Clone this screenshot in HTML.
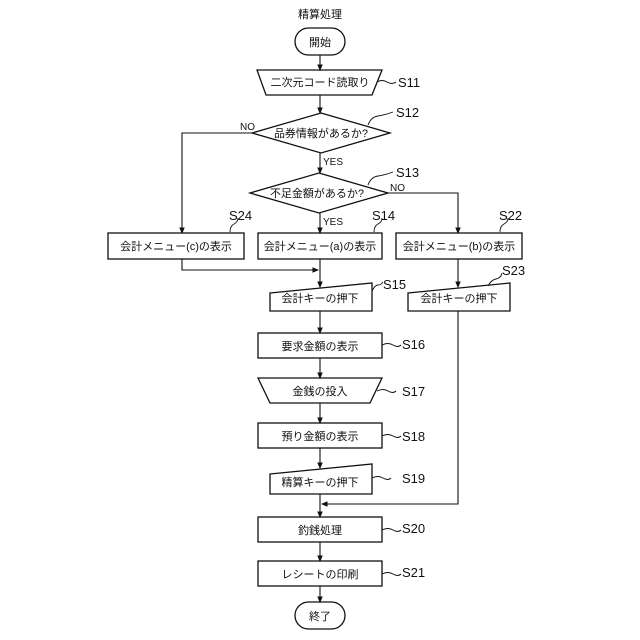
<!DOCTYPE html>
<html><head><meta charset="utf-8"><style>
body{margin:0;background:#fff}
svg{display:block}
text{font-family:"Liberation Sans","Noto Sans CJK JP",sans-serif;font-size:11px;fill:#111}
.l{font-size:13px}
</style></head><body>
<svg width="640" height="640" viewBox="0 0 640 640" xmlns="http://www.w3.org/2000/svg">
<defs><marker id="a" markerWidth="6" markerHeight="6" refX="5" refY="3" orient="auto"><path d="M0,0.5 L6,3 L0,5.5z" fill="#111"/></marker></defs>
<g fill="none" stroke="#111" stroke-width="1.3">
<rect x="295" y="28" width="50" height="27" rx="13.5"/>
<polygon points="257,70 382,70 372,95 266,95"/>
<polygon points="321,113 390,133 321,153 252,133"/>
<polygon points="319,173 388,193 319,213 250,193"/>
<rect x="108" y="233" width="136" height="26"/>
<rect x="258" y="233" width="124" height="26"/>
<rect x="396" y="233" width="126" height="26"/>
<polygon points="270,293 372,283 372,311 270,311"/>
<polygon points="408,293 510,283 510,311 408,311"/>
<rect x="258" y="333" width="124" height="25"/>
<polygon points="258,378 382,378 370,403 270,403"/>
<rect x="258" y="423" width="124" height="25"/>
<polygon points="270,474 372,464 372,494 270,494"/>
<rect x="258" y="517" width="124" height="25"/>
<rect x="258" y="561" width="124" height="25"/>
<rect x="295" y="602" width="50" height="27" rx="13.5"/>
</g>
<g fill="none" stroke="#111" stroke-width="1.1" marker-end="url(#a)">
<line x1="320" y1="55" x2="320" y2="70"/>
<line x1="320" y1="95" x2="320" y2="113"/>
<line x1="320" y1="153" x2="320" y2="173"/>
<line x1="320" y1="213" x2="320" y2="233"/>
<polyline points="252,133 182,133 182,233"/>
<polyline points="388,193 458,193 458,233"/>
<polyline points="182,259 182,270 318,270"/>
<line x1="320" y1="259" x2="320" y2="287"/>
<line x1="458" y1="259" x2="458" y2="287"/>
<line x1="320" y1="311" x2="320" y2="333"/>
<line x1="320" y1="358" x2="320" y2="378"/>
<line x1="320" y1="403" x2="320" y2="423"/>
<line x1="320" y1="448" x2="320" y2="468"/>
<polyline points="458,311 458,504 322,504"/>
<line x1="320" y1="494" x2="320" y2="517"/>
<line x1="320" y1="542" x2="320" y2="561"/>
<line x1="320" y1="586" x2="320" y2="602"/>
</g>
<g fill="none" stroke="#111" stroke-width="0.9">
<path d="M377,82 q5,-3 10,0 t9,0"/>
<path d="M368,125 q3,-8 10,-9 t15,-4"/>
<path d="M368,185 q3,-8 10,-9 t15,-4"/>
<path d="M230,232 q0,-6 4,-8 t4,-6"/>
<path d="M374,232 q0,-6 4,-8 t4,-6"/>
<path d="M500,232 q0,-6 4,-8 t4,-6"/>
<path d="M488,286 q3,-6 8,-7 t6,-6"/>
<path d="M372,291 q3,-6 6,-6 t5,-3"/>
<path d="M382,345 q6,-3 11,0 t8,0"/>
<path d="M377,391 q6,-3 11,0 t8,0"/>
<path d="M382,436 q6,-3 11,0 t8,0"/>
<path d="M372,478 q6,-3 11,0 t8,0"/>
<path d="M382,530 q6,-3 11,0 t8,0"/>
<path d="M382,574 q6,-3 11,0 t8,0"/>
</g>
<g text-anchor="middle">
<text x="320" y="18">精算処理</text>
<text x="320" y="46">開始</text>
<text x="320" y="86">二次元コード読取り</text>
<text x="321" y="137">品券情報があるか?</text>
<text x="317" y="197">不足金額があるか?</text>
<text x="176" y="250">会計メニュー(c)の表示</text>
<text x="320" y="250">会計メニュー(a)の表示</text>
<text x="459" y="250">会計メニュー(b)の表示</text>
<text x="320" y="302">会計キーの押下</text>
<text x="459" y="302">会計キーの押下</text>
<text x="320" y="350">要求金額の表示</text>
<text x="320" y="395">金銭の投入</text>
<text x="320" y="440">預り金額の表示</text>
<text x="320" y="486">精算キーの押下</text>
<text x="320" y="534">釣銭処理</text>
<text x="320" y="578">レシートの印刷</text>
<text x="320" y="620">終了</text>
</g>
<g font-size="10">
<text x="240" y="130" style="font-size:10px">NO</text>
<text x="323" y="165" style="font-size:10px">YES</text>
<text x="390" y="191" style="font-size:10px">NO</text>
<text x="323" y="225" style="font-size:10px">YES</text>
</g>
<g class="l">
<text class="l" x="398" y="87">S11</text>
<text class="l" x="396" y="117">S12</text>
<text class="l" x="396" y="177">S13</text>
<text class="l" x="229" y="220">S24</text>
<text class="l" x="372" y="220">S14</text>
<text class="l" x="499" y="220">S22</text>
<text class="l" x="502" y="275">S23</text>
<text class="l" x="383" y="289">S15</text>
<text class="l" x="402" y="349">S16</text>
<text class="l" x="402" y="396">S17</text>
<text class="l" x="402" y="441">S18</text>
<text class="l" x="402" y="483">S19</text>
<text class="l" x="402" y="533">S20</text>
<text class="l" x="402" y="577">S21</text>
</g>
</svg>
</body></html>
